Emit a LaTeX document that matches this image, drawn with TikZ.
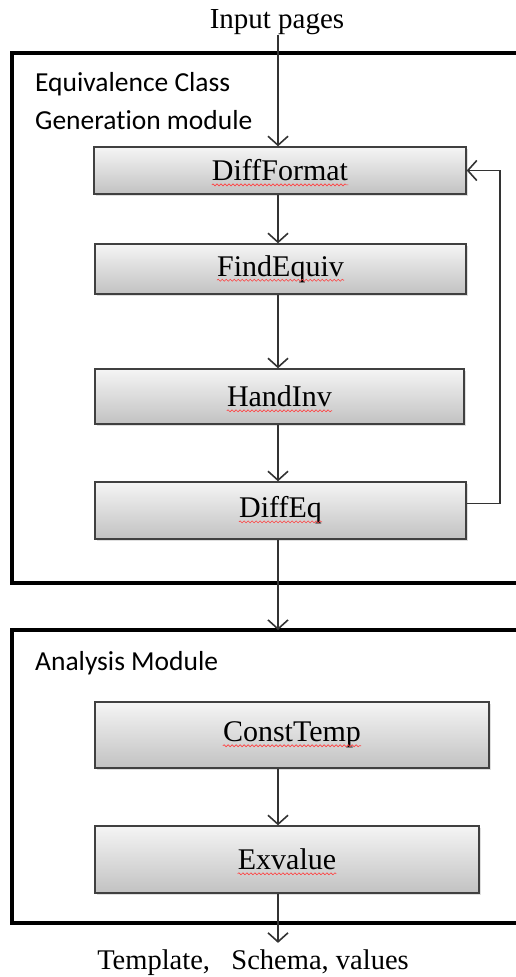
\documentclass[tikz,border=0pt]{standalone}
\usepackage{fontspec}
\setmainfont{Liberation Serif}
\newfontfamily\labelsans{Carlito}[Ligatures={NoCommon}]
\usetikzlibrary{arrows.meta,shadows,decorations.pathmorphing}
\tikzset{
  procbox/.style={draw=black!75, line width=1.4pt, top color=black!4, bottom color=black!24,
    drop shadow={shadow xshift=2pt, shadow yshift=-2pt, opacity=0.25}, inner sep=0pt},
  boxtext/.style={font=\fontsize{30}{34}\selectfont, inner sep=0pt},
  squig/.style={draw=red!75, line width=0.6pt, decorate, decoration={snake, amplitude=1pt, segment length=4pt}},
  frameline/.style={line width=4.5pt, black},
  flow/.style={draw=black!80, line width=1.6pt, -{Straight Barb[length=9pt,width=20pt,line width=1.6pt]}},
  modlabel/.style={font=\labelsans\fontsize{27.5}{38}\selectfont, anchor=north west, align=left, inner sep=0pt},
  iolabel/.style={font=\fontsize{29}{32}\selectfont, inner sep=0pt}
}
\begin{document}
\begin{tikzpicture}[x=1pt,y=-1pt]
\useasboundingbox (0,0) rectangle (515,977);
% axis of the vertical flow
\coordinate (axis) at (278,0);
% module frames (open to the right)
\draw[frameline] (530,53) -- (12,53) -- (12,583) -- (530,583);
\draw[frameline] (530,630) -- (12,630) -- (12,923) -- (530,923);
\coordinate (f2top) at (278,630);
% labels
\node[iolabel] (inp) at (277,22) {Input pages};
\node[iolabel, font=\fontsize{28.5}{32}\selectfont] (out) at (253,963) {Template,\ \ \ Schema, values};
\node[modlabel] (m1) at (35,72) {Equivalence Class\\Generation module};
\node[modlabel] (m2) at (35,651) {Analysis Module};
% boxes
\node[procbox, minimum width=372pt, minimum height=47pt] (df) at (280,170.5) {};
\node[procbox, minimum width=371pt, minimum height=50pt] (fe) at (280.5,269) {};
\node[procbox, minimum width=369pt, minimum height=55pt] (hi) at (279.5,396.5) {};
\node[procbox, minimum width=371pt, minimum height=57pt] (de) at (280.5,510.5) {};
\node[procbox, minimum width=394pt, minimum height=66pt] (ct) at (292,735) {};
\node[procbox, minimum width=384pt, minimum height=67pt] (ex) at (287,859.5) {};
% box texts
\node[boxtext] (dft) at (df) {DiffFormat};
\node[boxtext] (fet) at (fe) {FindEquiv};
\node[boxtext] (hit) at (hi) {HandInv};
\node[boxtext] (det) at (de) {DiffEq};
\node[boxtext] (ctt) at (ct) {ConstTemp};
\node[boxtext] (ext) at (ex) {Exvalue};
% spell-check squiggles
\foreach \t in {dft,fet,hit,det,ctt,ext}
  \draw[squig] ([yshift=-4pt]\t.base west) -- ([yshift=-4pt]\t.base east);
% connectors
\draw[flow] (inp.south -| axis) -- (df.north -| axis);
\draw[flow] (df.south -| axis) -- (fe.north -| axis);
\draw[flow] (fe.south -| axis) -- (hi.north -| axis);
\draw[flow] (hi.south -| axis) -- (de.north -| axis);
\draw[flow] (de.south -| axis) -- (f2top);
\draw[flow] (ct.south -| axis) -- (ex.north -| axis);
\draw[flow] (ex.south -| axis) -- ([yshift=7pt]out.north -| axis);
% feedback loop
\coordinate (loopx) at (500,0);
\draw[flow] ([yshift=7pt]de.east) -- ([yshift=7pt]de.east -| loopx) -- (df.east -| loopx) -- (df.east);
\end{tikzpicture}
\end{document}
